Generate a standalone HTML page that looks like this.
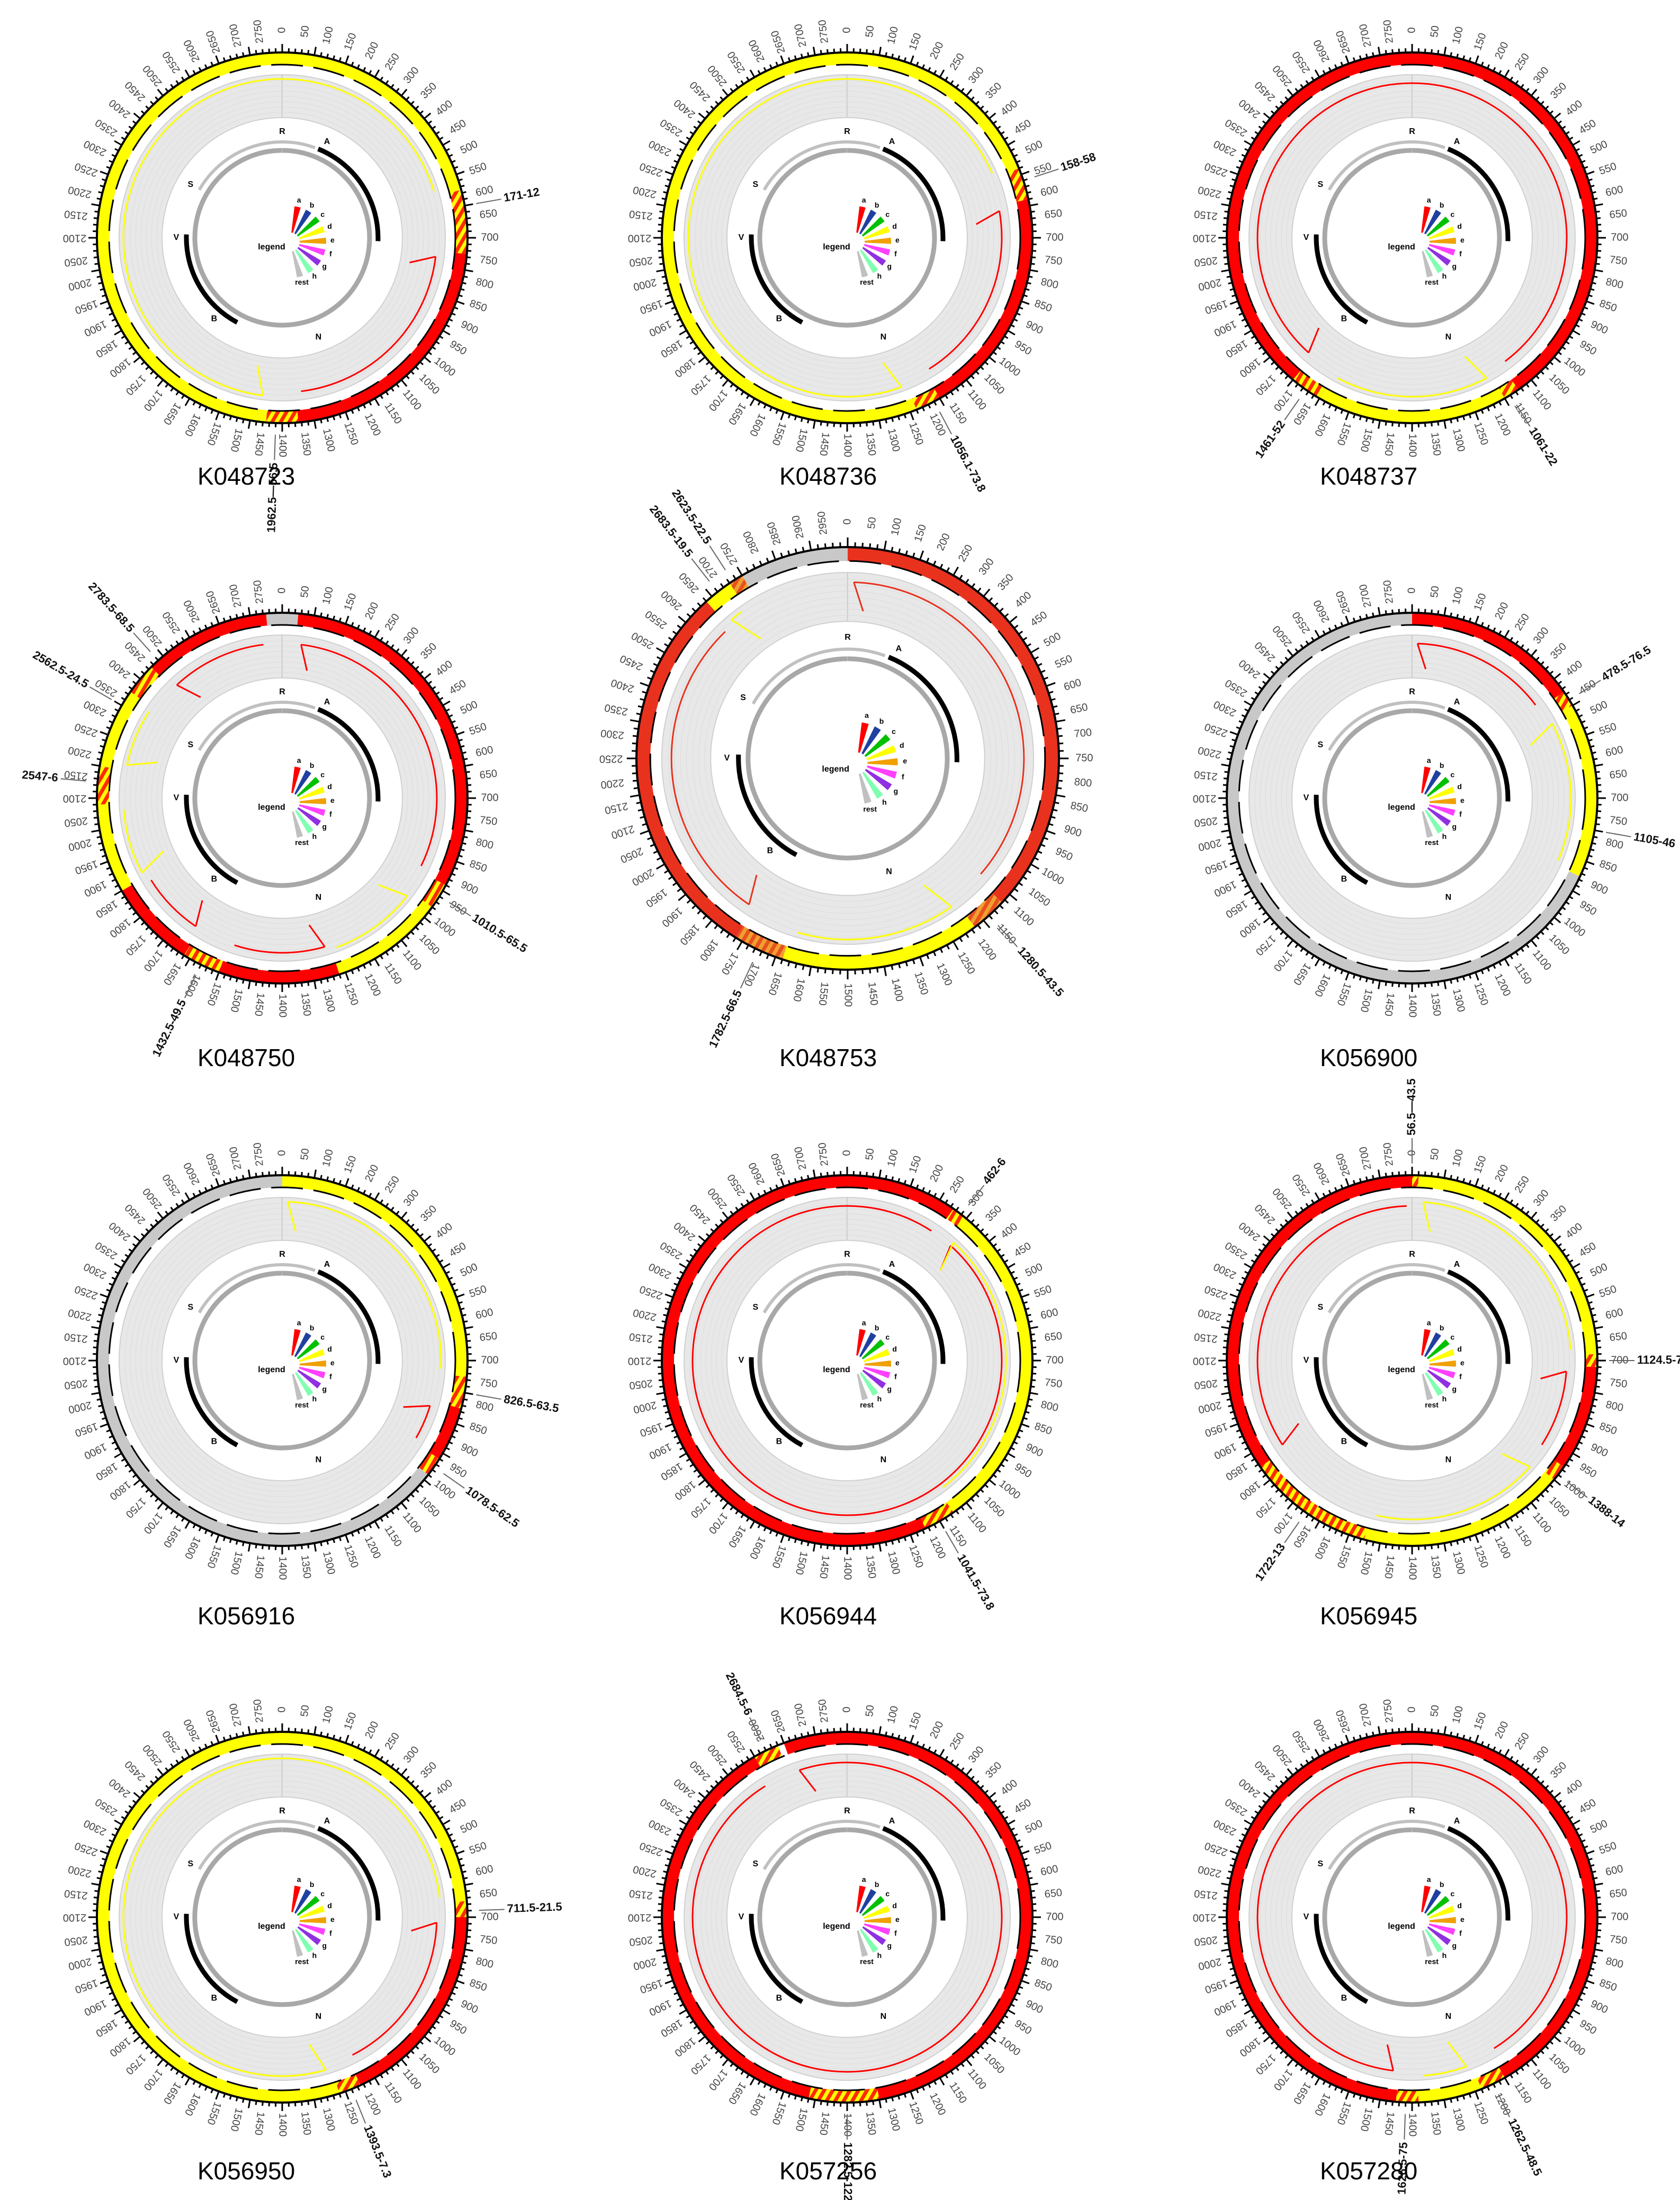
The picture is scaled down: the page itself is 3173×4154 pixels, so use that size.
<!DOCTYPE html>
<html><head><meta charset="utf-8">
<style>
html,body{margin:0;padding:0;background:#fff;}
svg{display:block;font-family:"Liberation Sans",sans-serif;}
</style></head>
<body>
<svg id="fig" width="3173" height="4154" viewBox="0 0 3173 4154" xmlns="http://www.w3.org/2000/svg">
<defs>
<pattern id="hatch" width="14" height="14" patternUnits="userSpaceOnUse" patternTransform="rotate(30)">
<rect width="14" height="14" fill="#ffff00"/><rect width="7" height="14" fill="#ff2a00"/>
</pattern>
<pattern id="hatch2" width="14" height="14" patternUnits="userSpaceOnUse" patternTransform="rotate(30)">
<rect width="14" height="14" fill="#f0a030"/><rect width="7" height="14" fill="#e8501e"/>
</pattern>
</defs>
</svg>
<script>
const chartNames=["K048723","K048736","K048737","K048750","K048753","K056900","K056916","K056944","K056945","K056950","K057256","K057280"];
// segments: [startDeg, endDeg, type] clockwise from top
const chartSegments=[
 [[185,435,"Y"],[75,95,"H"],[95,175,"R"],[175,185,"H"]],
 [[158,428,"Y"],[68,78,"H"],[78,150,"R"],[150,158,"H"]],
 [[-140,145,"R"],[145,150,"H"],[150,210,"Y"],[210,220,"H"]],
 [[-5,5,"G"],[5,118,"R"],[118,126,"H"],[126,162,"Y"],[162,200,"R"],[200,212,"H"],[212,240,"R"],[240,268,"Y"],[268,280,"H"],[280,305,"Y"],[305,315,"H"],[315,355,"R"]],
 [[-30,0,"G"],[0,133,"R"],[133,143,"H"],[143,198,"Y"],[198,212,"H"],[212,318,"R"],[318,326,"Y"],[326,330,"H"],[330,330,"R"]],
 [[0,55,"R"],[55,60,"H"],[60,115,"Y"],[115,360,"G"]],
 [[0,95,"Y"],[95,105,"H"],[105,122,"R"],[122,128,"H"],[128,360,"G"]],
 [[-320,35,"R"],[35,40,"H"],[40,145,"Y"],[145,155,"H"]],
 [[-2,2,"H"],[2,88,"Y"],[88,92,"H"],[92,125,"R"],[125,130,"H"],[130,195,"Y"],[195,235,"H"],[235,360,"R"]],
 [[162,445,"Y"],[85,90,"H"],[90,155,"R"],[155,162,"H"]],
 [[-20,330,"R"],[330,338,"H"],[170,192,"H"]],
 [[-175,150,"R"],[150,158,"H"],[158,178,"Y"],[178,185,"H"]]
];
const callouts=[
 [[80,"171-12"],[182,"1962.5—56.5"]],
 [[72,"158-58"],[152,"1056.1-73.8"]],
 [[148,"1061-22"],[215,"1461-52"]],
 [[122,"1010.5-65.5"],[206,"1432.5-49.5"],[275,"2547-6"],[300,"2562.5-24.5"],[318,"2783.5-68.5"]],
 [[138,"1280.5-43.5"],[205,"1782.5-66.5"],[322,"2683.5-19.5"],[327,"2623.5-22.5"]],
 [[58,"478.5-76.5"],[100,"1105-46"]],
 [[100,"826.5-63.5"],[125,"1078.5-62.5"]],
 [[38,"462-6"],[150,"1041.5-73.8"]],
 [[0,"56.5—43.5"],[90,"1124.5-71.5"],[128,"1388-14"],[215,"1722-13"]],
 [[88,"711.5-21.5"],[158,"1393.5-7.3"]],
 [[334,"2684.5-6"],[180,"1282.5-122.5"]],
 [[154,"1262.5-48.5"],[182,"1626.5-75"]]
];
const tickLabelValues=[0,50,100,150,200,250,300,350,400,450,500,550,600,650,700,750,800,850,900,950,1000,1050,1100,1150,1200,1250,1300,1350,1400,1450,1500,1550,1600,1650,1700,1750,1800,1850,1900,1950,2000,2050,2100,2150,2200,2250,2300,2350,2400,2450,2500,2550,2600,2650,2700,2750,2800,2850,2900,2950,3000,3050,3100,3150,3200,3250,3300,3350,3400,3450,3500];
const legendColors=["#ff0000","#2040a0","#00c000","#ffff00","#f0a000","#ff40ff","#9030e0","#80ffb0","#c0c0c0"];
const legendLabels=["a","b","c","d","e","f","g","h","rest"];

const svg=document.getElementById('fig');
const NS="http://www.w3.org/2000/svg";
const colX=[533,1600,2667], rowY=[449,1507,2569,3620];
const labelPos=[[373,915],[1472,915],[2493,915],[373,2013],[1472,2013],[2493,2013],[373,3067],[1472,3067],[2493,3067],[373,4115],[1472,4115],[2493,4115]];
function mk(tag,attrs,parent){const e=document.createElementNS(NS,tag);for(const k in attrs)e.setAttribute(k,attrs[k]);(parent||svg).appendChild(e);return e;}
function pt(cx,cy,r,a){const t=a*Math.PI/180;return [cx+r*Math.sin(t),cy-r*Math.cos(t)];}
function sector(cx,cy,r0,r1,a0,a1){
 if(a1-a0>=359.9){a1=a0+359.9;}
 const l=(a1-a0)>180?1:0;
 const p0=pt(cx,cy,r1,a0),p1=pt(cx,cy,r1,a1),p2=pt(cx,cy,r0,a1),p3=pt(cx,cy,r0,a0);
 return `M${p0} A${r1},${r1} 0 ${l} 1 ${p1} L${p2} A${r0},${r0} 0 ${l} 0 ${p3}Z`;
}
function arc(cx,cy,r,a0,a1){
 if(a1-a0>=359.9)a1=a0+359.9;
 const l=(a1-a0)>180?1:0;const p0=pt(cx,cy,r,a0),p1=pt(cx,cy,r,a1);
 return `M${p0} A${r},${r} 0 ${l} 1 ${p1}`;
}
const colorOf={Y:"#ffff00",R:"#ff0000",G:"#c8c8c8",H:"url(#hatch)"};

chartNames.forEach((name,i)=>{
 const col=i%3,row=Math.floor(i/3);
 let cx=colX[col],cy=rowY[row],R=350;
 if(i===4){cx=1601;cy=1432;R=399;}
 const s=R/350;
 const g=mk('g',{});
 
 
 // grey annulus
 const ann=mk('path',{d:sector(cx,cy,227*s,308*s,0,360),fill:"#e8e8e8",stroke:"#d0d0d0","stroke-width":2},g);
 
 
 for(let k=1;k<8;k++){mk('circle',{cx:cx,cy:cy,r:(227+k*10)*s,fill:"none",stroke:"#dcdcdc","stroke-width":1},g);}
 // outer ring segments
 chartSegments[i].forEach(sg=>{
  let [a0,a1,t]=sg; if(a1<=a0)return;
  let fill=colorOf[t];
  if(i===4){if(t==="R")fill="#e8321e";if(t==="H")fill="url(#hatch2)";}
  const p=mk('path',{d:sector(cx,cy,327*s,350*s,a0,a1),fill:fill},g);
  
  
  // inner signal line
  if(t!=="G"&&t!=="H"){
   const lc=t==="Y"?"#ffff00":(i===4?"#e8321e":"#ff0000");
   const r=t==="Y"?300*s:292*s;
   const ln=mk('path',{d:arc(cx,cy,r,a0+2,a1-2),fill:"none",stroke:lc,"stroke-width":3},g);
   
   
   const q0=pt(cx,cy,r,a0+2),q1=pt(cx,cy,245*s,a0+6);
   mk('line',{x1:q0[0],y1:q0[1],x2:q1[0],y2:q1[1],stroke:lc,"stroke-width":3},g);
  }
 });
 mk('circle',{cx:cx,cy:cy,r:350*s,fill:"none",stroke:"#000","stroke-width":4},g);
 mk('circle',{cx:cx,cy:cy,r:327*s,fill:"none",stroke:"#000","stroke-width":3,"stroke-dasharray":"60 20"},g);
 // tick marks + labels
 for(let a=0;a<360;a+=2){
  const big=a%10===0;const p0=pt(cx,cy,350*s,a),p1=pt(cx,cy,(big?366:358)*s,a);
  mk('line',{x1:p0[0],y1:p0[1],x2:p1[0],y2:p1[1],stroke:"#000","stroke-width":3},g);
 }
 const nLab=i===4?60:56;
 for(let k=0;k<nLab;k++){
  const a=k*360/nLab;const p=pt(cx,cy,392*s,a);
  const tx=mk('text',{x:p[0],y:p[1],"font-size":20,fill:"#444","text-anchor":"middle","dominant-baseline":"middle",transform:`rotate(${a-90} ${p[0]} ${p[1]})`},g);
  tx.textContent=tickLabelValues[k%tickLabelValues.length];
  
  
 }
 // callouts
 callouts[i].forEach(c=>{
  const [a,txt]=c;const p0=pt(cx,cy,372*s,a),p1=pt(cx,cy,420*s,a),p2=pt(cx,cy,425*s,a);
  mk('line',{x1:p0[0],y1:p0[1],x2:p1[0],y2:p1[1],stroke:"#666","stroke-width":2},g);
  const flip=(a%360+360)%360>180;
  const tx=mk('text',{x:p2[0],y:p2[1],"font-size":22,fill:"#111","font-weight":"bold","text-anchor":flip?"end":"start","dominant-baseline":"middle",transform:`rotate(${flip?a+90:a-90} ${p2[0]} ${p2[1]})`},g);
  tx.textContent=txt;
  
  
 });
 // inner arcs
 mk('path',{d:arc(cx,cy,165*s,0,360),fill:"none",stroke:"#a8a8a8","stroke-width":9},g);
 mk('path',{d:arc(cx,cy,181*s,300,380),fill:"none",stroke:"#c0c0c0","stroke-width":6},g);
 mk('path',{d:arc(cx,cy,181*s,22,92),fill:"none",stroke:"#000","stroke-width":9},g);
 mk('path',{d:arc(cx,cy,181*s,208,272),fill:"none",stroke:"#000","stroke-width":9},g);
 [[0,"R"],[25,"A"],[300,"S"],[270,"V"],[220,"B"],[160,"N"]].forEach(t=>{const p=pt(cx,cy,200*s,t[0]);const e=mk('text',{x:p[0],y:p[1],"font-size":16,"font-weight":"bold","text-anchor":"middle","dominant-baseline":"middle"},g);e.textContent=t[1];});
 // legend fan
 const ox=cx+15*s,oy=cy+8*s;
 legendColors.forEach((c,k)=>{
  const a=12+k*19;
  const w=mk('path',{d:sector(ox,oy,18*s,68*s,a-5,a+5),fill:c},g);
  
  
  const p=pt(ox,oy,80*s,a);
  const e=mk('text',{x:p[0],y:p[1],"font-size":14,"font-weight":"bold","text-anchor":"middle","dominant-baseline":"middle"},g);e.textContent=legendLabels[k];
 });
 const lg=mk('text',{x:cx-20*s,y:cy+22*s,"font-size":16,"font-weight":"bold","text-anchor":"middle"},g);
 lg.textContent="legend";
 
 
 // chart title
 const ti=mk('text',{x:labelPos[i][0],y:labelPos[i][1],"font-size":46,fill:"#000"},g);
 ti.textContent=name;
 
 
});
</script>
</body></html>
